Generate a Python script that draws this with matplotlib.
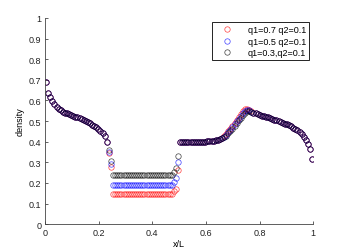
import numpy as np
import matplotlib
matplotlib.use("Agg")
import matplotlib.pyplot as plt
from matplotlib.ticker import FormatStrFormatter

# 128 cell centres on [0, 1]
n_cells = 128
x = (np.arange(n_cells) + 0.5) / n_cells

# shared left part, cells 0..29
left = [0.690, 0.636, 0.615, 0.599, 0.583, 0.569, 0.559, 0.552, 0.546, 0.541,
        0.537, 0.533, 0.529, 0.525, 0.522, 0.518, 0.514, 0.509, 0.504, 0.500,
        0.495, 0.489, 0.483, 0.476, 0.469, 0.460, 0.451, 0.440, 0.428, 0.400]

# cells 30..63, one per case
mid_a = [0.345, 0.275] + [0.147] * 29 + [0.160, 0.172, 0.262]   # q1=0.7
mid_b = [0.352, 0.290] + [0.188] * 29 + [0.203, 0.222, 0.300]   # q1=0.5
mid_c = [0.360, 0.307] + [0.238] * 29 + [0.251, 0.272, 0.332]   # q1=0.3

# cells 64..83, shared plateau
plateau = [0.397, 0.397, 0.397, 0.397, 0.398, 0.398, 0.398, 0.398, 0.399, 0.399,
           0.399, 0.400, 0.400, 0.401, 0.402, 0.403, 0.404, 0.406, 0.408, 0.411]

# cells 84..98, rise to the peak
rise_a = [0.420, 0.428, 0.438, 0.450, 0.463, 0.477, 0.492, 0.507, 0.521, 0.535,
          0.547, 0.557, 0.560, 0.553, 0.547]
rise_b = [0.418, 0.425, 0.434, 0.445, 0.457, 0.470, 0.484, 0.498, 0.512, 0.526,
          0.539, 0.550, 0.555, 0.552, 0.546]
rise_c = [0.416, 0.422, 0.430, 0.440, 0.451, 0.463, 0.476, 0.490, 0.504, 0.517,
          0.530, 0.541, 0.549, 0.550, 0.546]

# cells 99..127, shared tail
tail = [0.541, 0.537, 0.533, 0.530, 0.527, 0.524, 0.521, 0.518, 0.514, 0.511,
        0.507, 0.504, 0.500, 0.496, 0.492, 0.488, 0.484, 0.479, 0.474, 0.468,
        0.462, 0.455, 0.446, 0.436, 0.424, 0.408, 0.390, 0.365, 0.315]

rho_a = left + mid_a + plateau + rise_a + tail
rho_b = left + mid_b + plateau + rise_b + tail
rho_c = left + mid_c + plateau + rise_c + tail

labels = ["q1=0.7 q2=0.1", "q1=0.5 q2=0.1", "q1=0.3,q2=0.1"]
colors = ["#ff0000", "#0000ff", "#000000"]

plt.rcParams["font.family"] = ["Liberation Sans", "DejaVu Sans"]
plt.rcParams["font.size"] = 6.5

fig = plt.figure(figsize=(3.46, 2.53), dpi=100)
ax = fig.add_axes([0.13, 0.11, 0.775, 0.815])

for rho, c, lab in zip([rho_a, rho_b, rho_c], colors, labels):
    ax.plot(x, rho, "o", mfc="none", mec=c, ms=3.9, mew=0.5, alpha=0.75, label=lab)

ax.set_xlim(0, 1)
ax.set_ylim(0, 1)
ax.set_xticks(np.arange(0, 1.01, 0.2))
ax.set_yticks(np.arange(0, 1.01, 0.1))
ax.xaxis.set_major_formatter(FormatStrFormatter("%g"))
ax.yaxis.set_major_formatter(FormatStrFormatter("%g"))
ax.tick_params(direction="in", length=2.5, width=0.5, pad=2.5, colors="#222222")
for s in ["top", "right"]:
    ax.spines[s].set_visible(False)
for s in ["left", "bottom"]:
    ax.spines[s].set_linewidth(0.6)
    ax.spines[s].set_color("#444444")

ax.set_xlabel("x/L", labelpad=2)
ax.set_ylabel("density", labelpad=3)

leg = ax.legend(loc="upper right", bbox_to_anchor=(0.985, 0.979), borderaxespad=0,
                fancybox=False, edgecolor="black", framealpha=1, handletextpad=1.0,
                borderpad=0.35, labelspacing=0.25, handlelength=2.6)
leg.get_frame().set_linewidth(0.6)

fig.savefig("out.png", dpi=100)
